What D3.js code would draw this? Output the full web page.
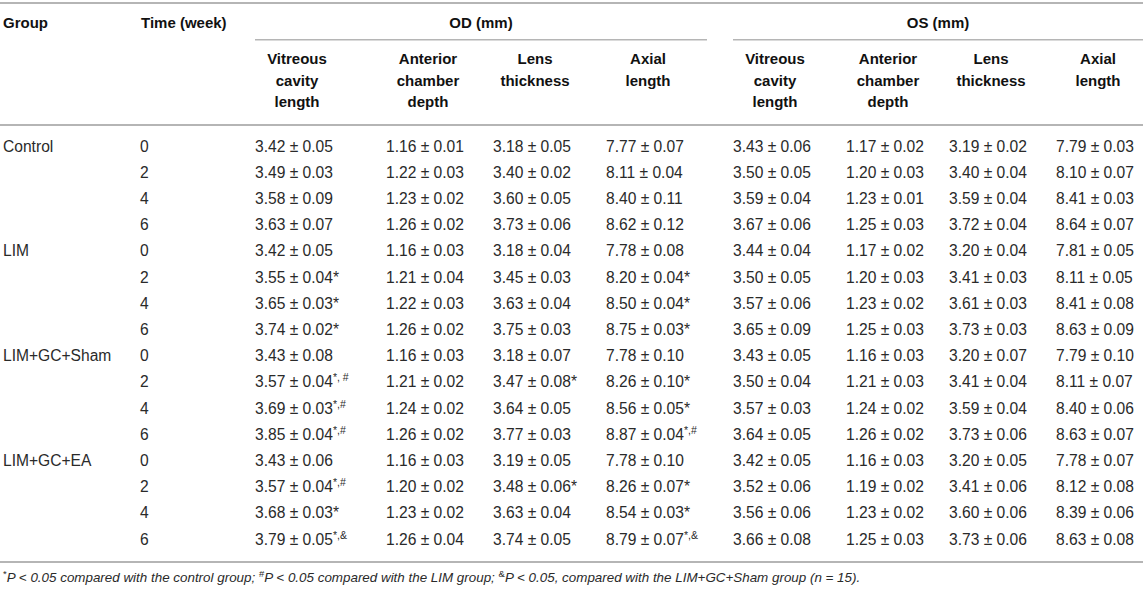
<!DOCTYPE html>
<html>
<head>
<meta charset="utf-8">
<script src="https://cdn.jsdelivr.net/npm/d3@7"></script>
<style>
  body { margin: 0; background: #fff; }
  svg { display: block; }
  text { font-family: "Liberation Sans", Arial, Helvetica, sans-serif; }
</style>
</head>
<body>
<div id="table"></div>
<script>
var width = 1143;
var height = 593;

// table content
var groups = ["Control", "LIM", "LIM+GC+Sham", "LIM+GC+EA"];
var weeks = [0, 2, 4, 6];
var measures = [["Vitreous", "cavity", "length"], ["Anterior", "chamber", "depth"], ["Lens", "thickness"], ["Axial", "length"]];
var eyes = ["OD (mm)", "OS (mm)"];

// OD mean, SD and significance marks (rows: group x week, cols: measures)
var odMean = [
  [3.42, 1.16, 3.18, 7.77], [3.49, 1.22, 3.40, 8.11], [3.58, 1.23, 3.60, 8.40], [3.63, 1.26, 3.73, 8.62],
  [3.42, 1.16, 3.18, 7.78], [3.55, 1.21, 3.45, 8.20], [3.65, 1.22, 3.63, 8.50], [3.74, 1.26, 3.75, 8.75],
  [3.43, 1.16, 3.18, 7.78], [3.57, 1.21, 3.47, 8.26], [3.69, 1.24, 3.64, 8.56], [3.85, 1.26, 3.77, 8.87],
  [3.43, 1.16, 3.19, 7.78], [3.57, 1.20, 3.48, 8.26], [3.68, 1.23, 3.63, 8.54], [3.79, 1.26, 3.74, 8.79]
];
var odSd = [
  [0.05, 0.01, 0.05, 0.07], [0.03, 0.03, 0.02, 0.04], [0.09, 0.02, 0.05, 0.11], [0.07, 0.02, 0.06, 0.12],
  [0.05, 0.03, 0.04, 0.08], [0.04, 0.04, 0.03, 0.04], [0.03, 0.03, 0.04, 0.04], [0.02, 0.02, 0.03, 0.03],
  [0.08, 0.03, 0.07, 0.10], [0.04, 0.02, 0.08, 0.10], [0.03, 0.02, 0.05, 0.05], [0.04, 0.02, 0.03, 0.04],
  [0.06, 0.03, 0.05, 0.10], [0.04, 0.02, 0.06, 0.07], [0.03, 0.02, 0.04, 0.03], [0.05, 0.04, 0.05, 0.07]
];
var odSig = [
  ["", "", "", ""], ["", "", "", ""], ["", "", "", ""], ["", "", "", ""],
  ["", "", "", ""], ["*", "", "", "*"], ["*", "", "", "*"], ["*", "", "", "*"],
  ["", "", "", ""], ["*, #", "", "*", "*"], ["*,#", "", "", "*"], ["*,#", "", "", "*,#"],
  ["", "", "", ""], ["*,#", "", "*", "*"], ["*", "", "", "*"], ["*,&", "", "", "*,&"]
];

// OS mean and SD
var osMean = [
  [3.43, 1.17, 3.19, 7.79], [3.50, 1.20, 3.40, 8.10], [3.59, 1.23, 3.59, 8.41], [3.67, 1.25, 3.72, 8.64],
  [3.44, 1.17, 3.20, 7.81], [3.50, 1.20, 3.41, 8.11], [3.57, 1.23, 3.61, 8.41], [3.65, 1.25, 3.73, 8.63],
  [3.43, 1.16, 3.20, 7.79], [3.50, 1.21, 3.41, 8.11], [3.57, 1.24, 3.59, 8.40], [3.64, 1.26, 3.73, 8.63],
  [3.42, 1.16, 3.20, 7.78], [3.52, 1.19, 3.41, 8.12], [3.56, 1.23, 3.60, 8.39], [3.66, 1.25, 3.73, 8.63]
];
var osSd = [
  [0.06, 0.02, 0.02, 0.03], [0.05, 0.03, 0.04, 0.07], [0.04, 0.01, 0.04, 0.03], [0.06, 0.03, 0.04, 0.07],
  [0.04, 0.02, 0.04, 0.05], [0.05, 0.03, 0.03, 0.05], [0.06, 0.02, 0.03, 0.08], [0.09, 0.03, 0.03, 0.09],
  [0.05, 0.03, 0.07, 0.10], [0.04, 0.03, 0.04, 0.07], [0.03, 0.02, 0.04, 0.06], [0.05, 0.02, 0.06, 0.07],
  [0.05, 0.03, 0.05, 0.07], [0.06, 0.02, 0.06, 0.08], [0.06, 0.02, 0.06, 0.06], [0.08, 0.03, 0.06, 0.08]
];

var footnote = [
  {sup: "*", text: "P < 0.05 compared with the control group; "},
  {sup: "#", text: "P < 0.05 compared with the LIM group; "},
  {sup: "&", text: "P < 0.05, compared with the LIM+GC+Sham group (n = 15)."}
];

var lineColor = "#b5b5b5";
var textColor = "#2a2a2a";

var svg = d3
    .select('#table')
    .append('svg')
    .attr('width', width)
    .attr('height', height);

// column starts (left edge of value text)
var colX = d3.scaleOrdinal()
    .domain(["od0", "od1", "od2", "od3", "os0", "os1", "os2", "os3"])
    .range([255, 386, 493, 606, 733, 846, 949, 1056]);
var headOffset = 42;

var rowY = d3.scaleLinear()
    .domain([0, 15])
    .range([146, 539]);

// rules
svg.append("rect").attr("x", 0).attr("y", 2).attr("width", width).attr("height", 2).attr("fill", lineColor);
svg.append("rect").attr("x", 0).attr("y", 124).attr("width", width).attr("height", 2).attr("fill", lineColor);
svg.append("rect").attr("x", 0).attr("y", 561).attr("width", width).attr("height", 2).attr("fill", lineColor);
svg.append("rect").attr("x", 255).attr("y", 39).attr("width", 707 - 255).attr("height", 1.5).attr("fill", lineColor);
svg.append("rect").attr("x", 733).attr("y", 39).attr("width", width - 733).attr("height", 1.5).attr("fill", lineColor);

// header
var head = svg.append("g")
    .attr("font-weight", "bold")
    .attr("font-size", "15px")
    .attr("fill", "#111");

head.append("text").attr("x", 3).attr("y", 28).text("Group");
head.append("text").attr("x", 141).attr("y", 28).text("Time (week)");

head.selectAll(".eye")
  .data(eyes)
  .enter()
  .append("text")
  .attr("class", "eye")
  .attr("x", (d, i) => i == 0 ? (255 + 707) / 2 : (733 + width) / 2)
  .attr("y", 28)
  .attr("text-anchor", "middle")
  .text(d => d);

var subHeads = [];
["od", "os"].forEach(function(e) {
  measures.forEach(function(m, j) {
    subHeads.push({key: e + j, lines: m});
  });
});

head.selectAll(".sub")
  .data(subHeads)
  .enter()
  .append("text")
  .attr("class", "sub")
  .attr("text-anchor", "middle")
  .each(function(d) {
    var t = d3.select(this);
    d.lines.forEach(function(l, k) {
      t.append("tspan")
        .attr("x", colX(d.key) + headOffset)
        .attr("y", 64 + k * 21.5)
        .text(l);
    });
  });

// body rows
var rows = [];
groups.forEach(function(g, gi) {
  weeks.forEach(function(w, wi) {
    rows.push({group: wi == 0 ? g : "", week: w, idx: gi * 4 + wi});
  });
});

var body = svg.append("g")
    .attr("font-size", "15.6px")
    .attr("fill", textColor);

var rowG = body.selectAll(".row")
  .data(rows)
  .enter()
  .append("g")
  .attr("class", "row")
  .attr("transform", d => `translate(0, ${rowY(d.idx) + 5.5})`);

rowG.append("text").attr("x", 3).text(d => d.group);
rowG.append("text").attr("x", 140).text(d => d.week);

function cells(d) {
  var out = [];
  for (var j = 0; j < 4; j++) {
    out.push({key: "od" + j, mean: odMean[d.idx][j], sd: odSd[d.idx][j], sig: odSig[d.idx][j]});
  }
  for (var j = 0; j < 4; j++) {
    out.push({key: "os" + j, mean: osMean[d.idx][j], sd: osSd[d.idx][j], sig: ""});
  }
  return out;
}

var fmt = d3.format(".2f");

rowG.selectAll(".cell")
  .data(cells)
  .enter()
  .append("text")
  .attr("class", "cell")
  .attr("x", d => colX(d.key))
  .each(function(d) {
    var t = d3.select(this);
    t.append("tspan").text(fmt(d.mean) + " \u00b1 " + fmt(d.sd));
    if (d.sig == "*") {
      t.append("tspan").text("*");
    } else if (d.sig) {
      t.append("tspan")
        .attr("font-size", "10.5px")
        .attr("baseline-shift", "super")
        .text(d.sig);
    }
  });

// footnote
var foot = svg.append("text")
    .attr("x", 3)
    .attr("y", 582)
    .attr("font-size", "13.4px")
    .attr("font-style", "italic")
    .attr("fill", textColor);

footnote.forEach(function(f) {
  foot.append("tspan")
    .attr("font-size", "9.5px")
    .attr("font-style", "normal")
    .attr("baseline-shift", "super")
    .text(f.sup);
  foot.append("tspan").text(f.text);
});
</script>
</body>
</html>
